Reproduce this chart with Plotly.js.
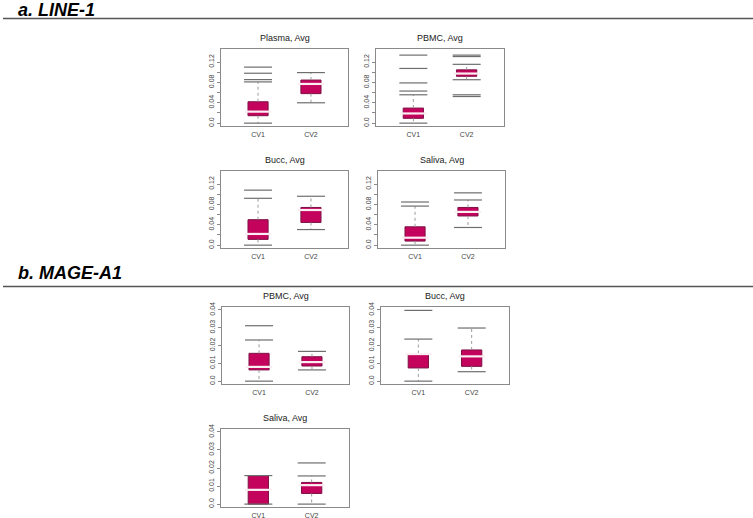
<!DOCTYPE html>
<html>
<head>
<meta charset="utf-8">
<script src="https://cdn.plot.ly/plotly-3.0.1.min.js"></script>
<style>
  body { margin: 0; background: #fff; }
  #plot { width: 753px; height: 518px; }
</style>
</head>
<body>
<div id="plot"></div>
<script>
// box stats per group: [low whisker, q1, median, q3, high whisker]
const groups = ['CV1', 'CV2'];

const linePlasma = [[0.0, 0.0146, 0.0226, 0.042, 0.081], [0.040, 0.058, 0.077, 0.0846, 0.0993]];
const linePlasmaOut = [[0.0855, 0.098, 0.110], []];

const linePbmc = [[0.0, 0.0095, 0.019, 0.0296, 0.0557], [0.0853, 0.092, 0.0974, 0.1047, 0.1155]];
const linePbmcOut = [[0.063, 0.079, 0.1074, 0.1336], [0.0523, 0.0557, 0.1308, 0.1336]];

const lineBucc = [[0.0, 0.0113, 0.022, 0.050, 0.092], [0.0306, 0.0446, 0.069, 0.074, 0.096]];
const lineBuccOut = [[0.108], []];

const lineSaliva = [[0.0, 0.008, 0.0146, 0.036, 0.0767], [0.0347, 0.0573, 0.0653, 0.074, 0.0887]];
const lineSalivaOut = [[0.0847], [0.1027]];

const magePbmc = [[0.0, 0.0063, 0.008, 0.0156, 0.0231], [0.0063, 0.0085, 0.0107, 0.0137, 0.0167]];
const magePbmcOut = [[0.0311], []];

const mageBucc = [[0.0, 0.0074, 0.0152, 0.0155, 0.0236], [0.0053, 0.0083, 0.0139, 0.0175, 0.0298]];
const mageBuccOut = [[0.0397], []];

const mageSaliva = [[0.0, 0.0, 0.0079, 0.0158, 0.0158], [0.0, 0.0059, 0.0105, 0.012, 0.0156]];
const mageSalivaOut = [[], [0.0228]];

const lineTicks = [0, 0.02, 0.04, 0.06, 0.08, 0.10, 0.12];
const lineTickText = ['0.0', '', '0.04', '', '0.08', '', '0.12'];
const mageTicks = [0, 0.01, 0.02, 0.03, 0.04];
const mageTickText = ['0.0', '0.01', '0.02', '0.03', '0.04'];

const W = 753, H = 518;
const boxColor = '#c4045c';
const grayLine = '#6e6e6e';
const font = 'Liberation Sans, Arial, sans-serif';

// frame boxes in pixels: [left, top, right, bottom]
const panels = [
  { title: 'Plasma, Avg', stats: linePlasma, out: linePlasmaOut, box: [221, 49, 348, 126], mage: false },
  { title: 'PBMC, Avg', stats: linePbmc, out: linePbmcOut, box: [376, 49, 504, 126], mage: false },
  { title: 'Bucc, Avg', stats: lineBucc, out: lineBuccOut, box: [221, 171, 348, 248], mage: false },
  { title: 'Saliva, Avg', stats: lineSaliva, out: lineSalivaOut, box: [378, 171, 505, 248], mage: false },
  { title: 'PBMC, Avg', stats: magePbmc, out: magePbmcOut, box: [222, 307, 349, 384], mage: true },
  { title: 'Bucc, Avg', stats: mageBucc, out: mageBuccOut, box: [381, 307, 509, 384], mage: true },
  { title: 'Saliva, Avg', stats: mageSaliva, out: mageSalivaOut, box: [221, 429, 349, 507], mage: true }
];

const data = [];
const layout = {
  width: W, height: H,
  margin: { l: 0, r: 0, t: 0, b: 0 },
  paper_bgcolor: '#fff', plot_bgcolor: '#fff',
  showlegend: false,
  font: { family: font, color: '#222' },
  annotations: [],
  shapes: []
};

panels.forEach((p, i) => {
  const n = i + 1;
  const xa = 'x' + n, ya = 'y' + n;
  const [l, t, r, b] = p.box;
  const xs = [1, 2];

  // whiskers
  const wx = [], wy = [];
  p.stats.forEach((s, j) => {
    wx.push(xs[j], xs[j], null, xs[j], xs[j], null);
    wy.push(s[3], s[4], null, s[1], s[0], null);
  });
  data.push({ type: 'scatter', mode: 'lines', x: wx, y: wy, xaxis: xa, yaxis: ya,
    line: { color: '#9a9a9a', width: 1, dash: 'dot' }, hoverinfo: 'skip' });

  // boxes
  data.push({ type: 'bar', x: xs, base: p.stats.map(s => s[1]), y: p.stats.map(s => s[3] - s[1]),
    width: 0.38, xaxis: xa, yaxis: ya,
    marker: { color: boxColor, line: { color: '#7d1044', width: 1 } } });

  // caps
  const cx = [], cy = [];
  p.stats.forEach((s, j) => { cx.push(xs[j], xs[j]); cy.push(s[0], s[4]); });
  data.push({ type: 'scatter', mode: 'markers', x: cx, y: cy, xaxis: xa, yaxis: ya,
    marker: { symbol: 'line-ew', size: 20, line: { color: grayLine, width: 1.2 } } });

  // outliers
  const ox = [], oy = [];
  p.out.forEach((arr, j) => arr.forEach(v => { ox.push(xs[j]); oy.push(v); }));
  data.push({ type: 'scatter', mode: 'markers', x: ox, y: oy, xaxis: xa, yaxis: ya,
    marker: { symbol: 'line-ew', size: 20, line: { color: grayLine, width: 1.2 } } });

  // medians
  data.push({ type: 'scatter', mode: 'markers', x: xs, y: p.stats.map(s => s[2]), xaxis: xa, yaxis: ya,
    marker: { symbol: 'line-ew', size: 19, line: { color: '#fbeef3', width: 2.2 } } });

  const axisBase = {
    showline: true, mirror: true, linecolor: '#8a8a8a', linewidth: 1,
    showgrid: false, zeroline: false, fixedrange: true,
    tickfont: { size: 7, color: '#444', family: font }
  };
  layout['xaxis' + n] = Object.assign({}, axisBase, {
    anchor: ya, domain: [l / W, r / W], range: [0.3, 2.7],
    tickvals: xs, ticktext: groups, ticks: '', ticklabelstandoff: 2
  });
  layout['yaxis' + n] = Object.assign({}, axisBase, {
    anchor: xa, domain: [1 - b / H, 1 - t / H],
    range: p.mage ? [-0.0016, 0.0416] : [-0.0056, 0.1456],
    tickvals: p.mage ? mageTicks : lineTicks,
    ticktext: p.mage ? mageTickText : lineTickText,
    ticks: 'outside', ticklen: 3, tickcolor: '#8a8a8a', tickangle: -90
  });

  layout.annotations.push({
    xref: 'paper', yref: 'paper', x: (l + r) / 2 / W, y: 1 - (t - 11) / H,
    text: p.title, showarrow: false, xanchor: 'center', yanchor: 'middle',
    font: { size: 9, color: '#222', family: font }
  });
});

// section headers
const sections = [
  { text: 'a. LINE-1', y: 10, rule: 18.5 },
  { text: 'b. MAGE-A1', y: 273, rule: 286.5 }
];
sections.forEach(s => {
  layout.annotations.push({
    xref: 'paper', yref: 'paper', x: 16 / W, y: 1 - s.y / H,
    text: '<b><i>' + s.text + '</i></b>', showarrow: false, xanchor: 'left', yanchor: 'middle',
    font: { size: 18, color: '#000', family: font }
  });
  layout.shapes.push({
    type: 'line', xref: 'paper', yref: 'paper', x0: 3 / W, x1: 1,
    y0: 1 - s.rule / H, y1: 1 - s.rule / H, line: { color: '#555', width: 1.6 }
  });
});

Plotly.newPlot('plot', data, layout, { staticPlot: true, displayModeBar: false });
</script>
</body>
</html>
